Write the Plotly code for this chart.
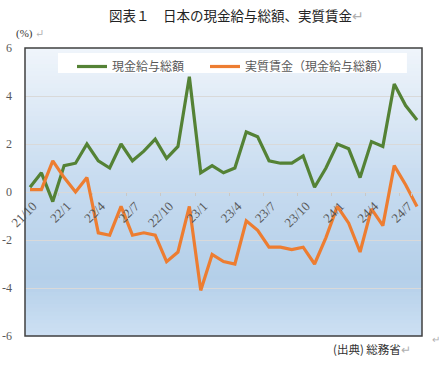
import plotly.graph_objects as go

months = ["21/10", "21/11", "21/12", "22/1", "22/2", "22/3", "22/4", "22/5", "22/6",
          "22/7", "22/8", "22/9", "22/10", "22/11", "22/12", "23/1", "23/2", "23/3",
          "23/4", "23/5", "23/6", "23/7", "23/8", "23/9", "23/10", "23/11", "23/12",
          "24/1", "24/2", "24/3", "24/4", "24/5", "24/6", "24/7", "24/8"]
nominal = [0.2, 0.8, -0.4, 1.1, 1.2, 2.0, 1.3, 1.0, 2.0, 1.3, 1.7, 2.2, 1.4, 1.9, 4.8,
           0.8, 1.1, 0.8, 1.0, 2.5, 2.3, 1.3, 1.2, 1.2, 1.5, 0.2, 1.0, 2.0, 1.8, 0.6,
           2.1, 1.9, 4.5, 3.6, 3.0]
real = [0.1, 0.1, 1.3, 0.6, 0.0, 0.6, -1.7, -1.8, -0.6, -1.8, -1.7, -1.8, -2.9, -2.5,
        -0.6, -4.1, -2.6, -2.9, -3.0, -1.2, -1.6, -2.3, -2.3, -2.4, -2.3, -3.0, -1.9,
        -0.6, -1.3, -2.5, -0.7, -1.4, 1.1, 0.3, -0.6]
tick_months = months[::3]
y_ticks = [-6, -4, -2, 0, 2, 4, 6]
y_ticktext = ["-6", "-4", "-2", "0", "2", "4", "6"]
series_names = ["現金給与総額", "実質賃金（現金給与総額）"]

GREEN = "#548235"
ORANGE = "#ED7D31"
SERIF = "Liberation Serif, DejaVu Serif, serif"
CJK = "Noto Sans CJK JP, sans-serif"

fig = go.Figure()
fig.add_trace(go.Scatter(x=months, y=nominal, mode="lines", name=series_names[0],
                         line=dict(color=GREEN, width=3.2), legend="legend"))
fig.add_trace(go.Scatter(x=months, y=real, mode="lines", name=series_names[1],
                         line=dict(color=ORANGE, width=3.2), legend="legend2"))

# gradient background stripes
shapes = []
stops = [(0.0, (240, 245, 251)), (0.45, (200, 220, 240)), (0.8, (180, 207, 233)), (1.0, (205, 224, 243))]
def col(t):
    for i in range(len(stops) - 1):
        t0, c0 = stops[i]
        t1, c1 = stops[i + 1]
        if t0 <= t <= t1:
            f = (t - t0) / (t1 - t0)
            return "rgb(%d,%d,%d)" % tuple(round(c0[k] + (c1[k] - c0[k]) * f) for k in range(3))
    return "rgb(%d,%d,%d)" % stops[-1][1]
N = 72
for i in range(N):
    t = (i + 0.5) / N
    shapes.append(dict(type="rect", xref="paper", yref="paper", x0=0, x1=1,
                       y0=1 - (i + 1) / N - 0.001, y1=1 - i / N + 0.001,
                       fillcolor=col(t), line=dict(width=0), layer="below"))
# legend white box
shapes.append(dict(type="rect", xref="paper", yref="paper", x0=0.083, x1=0.962,
                   y0=0.913, y1=0.983, fillcolor="white", line=dict(width=0), layer="below"))
# border
shapes.append(dict(type="rect", xref="paper", yref="paper", x0=0, x1=1, y0=0, y1=1,
                   line=dict(color="#404040", width=1.5), layer="above"))

annotations = [
    dict(text="図表１　日本の現金給与総額、実質賃金<span style='color:#b0b0b0'>↵</span>",
         xref="paper", yref="paper", x=(237 - 25) / 397, y=1 + (48 - 15) / 288,
         showarrow=False, font=dict(family=CJK, size=13.5, color="#222222"),
         xanchor="center", yanchor="middle"),
    dict(text="(%) <span style='color:#b0b0b0'>↵</span>",
         xref="paper", yref="paper", x=(14 - 25) / 397, y=1 + (48 - 33) / 288,
         showarrow=False, font=dict(family=SERIF, size=11, color="#333333"),
         xanchor="left", yanchor="middle"),
    dict(text="(出典) 総務省<span style='color:#b0b0b0'>↵</span>",
         xref="paper", yref="paper", x=(413 - 25) / 397, y=-(349 - 336) / 288,
         showarrow=False, font=dict(family=CJK, size=11.5, color="#333333"),
         xanchor="right", yanchor="middle"),
    dict(text="↵", xref="paper", yref="paper", x=(430 - 25) / 397, y=(336 - 338) / 288,
         showarrow=False, font=dict(family=CJK, size=10, color="#b0b0b0"),
         xanchor="left", yanchor="middle"),
]

legend_common = dict(orientation="h", xanchor="left", yanchor="top",
                     bgcolor="rgba(0,0,0,0)",
                     font=dict(family=CJK, size=12, color="#595959"))

fig.update_layout(
    width=439, height=370,
    margin=dict(l=25, r=17, t=48, b=34),
    paper_bgcolor="white", plot_bgcolor="rgba(0,0,0,0)",
    showlegend=True,
    legend=dict(x=(72 - 25) / 397, y=1 - (52 - 48) / 288, **legend_common),
    legend2=dict(x=(205 - 25) / 397, y=1 - (52 - 48) / 288, **legend_common),
    xaxis=dict(type="category", range=[-0.44, len(months) - 1 + 0.44],
               tickmode="array", tickvals=tick_months, ticktext=tick_months,
               tickangle=-45, showgrid=False, showline=False, zeroline=False,
               anchor="free", position=0.5, automargin=False,
               ticks="outside", ticklen=3, tickcolor="#c8c8c8", tickwidth=1,
               tickson="boundaries", ticklabelstandoff=3, ticklabelshift=3,
               tickfont=dict(family=SERIF, size=13, color="#595959")),
    yaxis=dict(range=[-6, 6], tickmode="array", tickvals=y_ticks, ticktext=y_ticktext,
               showgrid=True, gridcolor="#d9d9d9", gridwidth=1,
               zeroline=True, zerolinecolor="#d9d9d9", zerolinewidth=1,
               showline=False, ticks="", ticklabelstandoff=12, automargin=False,
               tickfont=dict(family=SERIF, size=12, color="#595959")),
    shapes=shapes,
    annotations=annotations,
)

fig.write_html("out.html", config={"displayModeBar": False},
               post_script="document.body.style.margin='0';")
